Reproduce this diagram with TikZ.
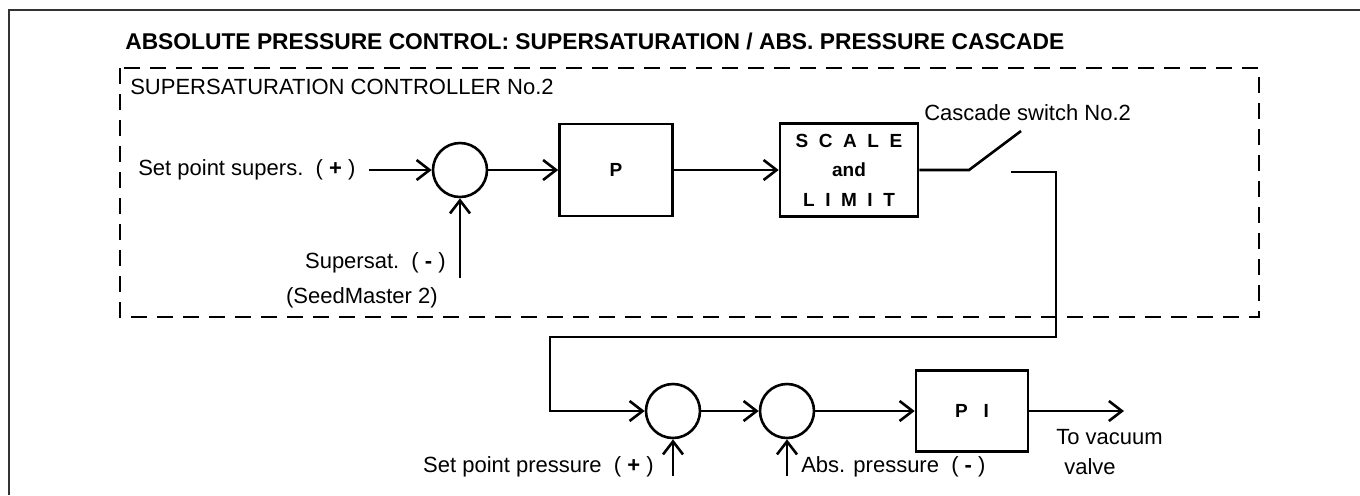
\documentclass[tikz,border=0pt]{standalone}
\usepackage{fontspec}
\setmainfont{Liberation Sans}
\usetikzlibrary{arrows.meta, positioning, calc}

\begin{document}
\begin{tikzpicture}[
    x=0.5pt, y=-0.5pt,
    line width=1.3pt,
    every node/.style={font=\fontsize{11}{13}\selectfont},
    lbl/.style={inner sep=0pt},
    blk/.style={rectangle, draw, line width=1.3pt, align=center,
                font=\fontsize{9.5}{14.75}\selectfont\bfseries},
    sumnode/.style={circle, draw, minimum size=27pt, inner sep=0pt},
    arr/.style={-{Straight Barb[length=6.5pt,width=10pt]}},
    ctrlbox/.style={dash pattern=on 8pt off 5pt, line width=1.4pt},
  ]
    \useasboundingbox (0,0) rectangle (1360,495);
    \draw[line width=1pt, black!80] (9,495) -- (9,10) -- (1360,10);

    \node[lbl, anchor=base west, font=\fontsize{11.4}{13}\selectfont\bfseries] (title) at (124,49)
      {ABSOLUTE PRESSURE CONTROL: SUPERSATURATION / ABS. PRESSURE CASCADE};
    \draw[ctrlbox] (120,68) rectangle (1259,317);
    \node[lbl, anchor=west] (ctrl) at (129,87) {SUPERSATURATION CONTROLLER No.2};

    \node[lbl, anchor=west] (spsup) at (137,170) {Set point supers.\ \ ( \textbf{+} )};
    \node[sumnode] (sum1) at (460,170) {};
    \node[blk, minimum width=56.5pt, minimum height=46pt] (p) at (616,170) {P};
    \node[blk, minimum width=69pt, minimum height=46.5pt] (scale) at (849,170)
      {S\ \ C\ \ A\ \ L\ \ E\\and\\L\ \ I\ \ M\ \ I\ \ T};
    \node[lbl, anchor=west] (swlbl) at (923,113) {Cascade switch No.2};
    \coordinate (swa) at (969,170);
    \coordinate (swb) at (1021,131);
    \coordinate (swc) at (1011,172);
    \coordinate (swd) at (1056,172);
    \coordinate (bend) at (550,337);

    \coordinate (fbsup) at (460,278);
    \node[lbl, anchor=east] (supsat) at (447,263) {Supersat.\ \ ( \textbf{-} )};
    \node[lbl, anchor=east] (seed) at (439,298) {(SeedMaster 2)};

    \node[sumnode] (sum2) at (673,411) {};
    \node[sumnode] (sum3) at (787,411) {};
    \node[blk, minimum width=56pt, minimum height=40.5pt] (pi) at (972,411) {P\ \ \ I};
    \coordinate (valve) at (1124,411);
    \node[lbl, anchor=west] (tovac) at (1055,437) {To vacuum};
    \node[lbl, anchor=west] (vlv) at (1063,467) {valve};
    \coordinate (fbsp) at (673,476);
    \coordinate (fbabs) at (787,476);
    \node[lbl, anchor=east] (sppr) at (655,467) {Set point pressure\ \ ( \textbf{+} )};
    \node[lbl, anchor=west] (abspr) at (800,467) {Abs. pressure\ \ ( \textbf{-} )};

    \draw[arr] ([xshift=6pt]spsup.east) -- (sum1.west);
    \draw[arr] (fbsup) -- (sum1.south);
    \draw[arr] (sum1.east) -- (p.west);
    \draw[arr] (p.east) -- (scale.west);
    \draw (scale.east) -- (swa) -- (swb);
    \draw[arr] (swc) -- (swd) |- (bend) |- (sum2.west);
    \draw[arr] (fbsp) -- (sum2.south);
    \draw[arr] (sum2.east) -- (sum3.west);
    \draw[arr] (fbabs) -- (sum3.south);
    \draw[arr] (sum3.east) -- (pi.west);
    \draw[arr] (pi.east) -- (valve);
  \end{tikzpicture}
\end{document}
